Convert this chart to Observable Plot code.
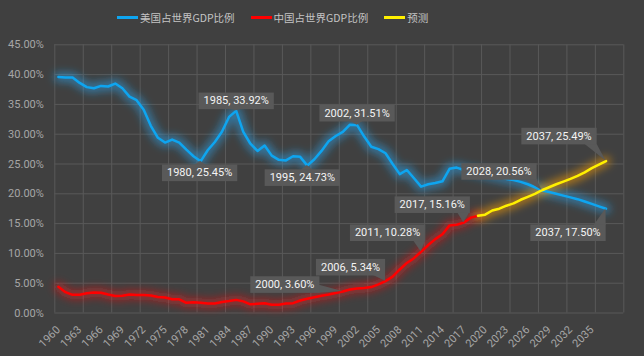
<!DOCTYPE html>
<html>
<head>
<meta charset="utf-8">
<script src="https://cdn.jsdelivr.net/npm/d3@7"></script>
<script src="https://cdn.jsdelivr.net/npm/@observablehq/plot@0.6"></script>
<style>
  html, body { margin: 0; padding: 0; background: #404040; }
  #legend { height: 35px; display: flex; align-items: center; padding-left: 117px;
    font-family: "Noto Sans CJK SC", sans-serif; font-size: 10.5px; color: #c4c4c4; box-sizing: border-box; }
  #legend .item { display: flex; align-items: center; margin-right: 16px; }
  #legend .sw { width: 21px; height: 3px; margin-right: 2px; }
  #chart svg { display: block; }
</style>
</head>
<body>
<div id="legend"></div>
<div id="chart"></div>
<script>
// ---- data ----
const seriesNames = ["美国占世界GDP比例", "中国占世界GDP比例", "预测"];
const seriesColors = ["#0ea5f0", "#ff0000", "#fff000"];

const usYears = d3.range(1960, 2038);
const usShare = [
  39.6, 39.5, 39.5, 38.6, 37.9, 37.7, 38.1, 38.0, 38.5, 37.7,
  36.3, 35.7, 34.1, 31.4, 29.4, 28.6, 29.1, 28.6, 27.4, 26.3,
  25.45, 27.3, 28.7, 30.4, 32.9, 33.92, 30.4, 28.4, 27.2, 28.1,
  26.4, 25.7, 25.6, 26.3, 26.2, 24.73, 25.8, 27.2, 28.8, 29.7,
  30.4, 31.6, 31.51, 29.6, 27.9, 27.5, 26.8, 25.0, 23.3, 24.0,
  22.6, 21.2, 21.6, 21.8, 22.1, 24.2, 24.4, 24.0, 23.8, 23.6,
  23.3, 23.0, 22.8, 22.5, 22.3, 22.0, 21.6, 21.1, 20.56, 20.3,
  20.0, 19.7, 19.4, 19.1, 18.7, 18.3, 17.9, 17.50
];

const cnYears = d3.range(1960, 2020);
const cnShare = [
  4.4, 3.5, 3.05, 3.05, 3.3, 3.45, 3.4, 3.1, 2.85, 2.9,
  3.1, 3.0, 3.0, 2.95, 2.7, 2.6, 2.3, 2.3, 1.7, 1.8,
  1.7, 1.6, 1.6, 1.85, 2.0, 2.2, 1.95, 1.45, 1.55, 1.65,
  1.4, 1.4, 1.6, 1.65, 2.1, 2.4, 2.65, 2.9, 3.1, 3.35,
  3.60, 3.95, 4.1, 4.2, 4.35, 4.8, 5.34, 6.1, 7.3, 8.4,
  9.2, 10.28, 11.4, 12.4, 13.2, 14.7, 14.8, 15.16, 16.0, 16.3
];

const forecastYears = d3.range(2019, 2038);
const cnForecast = [
  16.3, 16.5, 17.2, 17.5, 18.0, 18.4, 19.0, 19.5, 20.0, 20.6,
  21.1, 21.6, 22.05, 22.5, 23.0, 23.6, 24.3, 24.9, 25.49
];

const yTicks = [0, 5, 10, 15, 20, 25, 30, 35, 40, 45];
const xLabelYears = d3.range(1960, 2036, 3);
const xGridBounds = d3.range(1959.5, 2040, 4); // category boundaries, every 4 categories

const calloutYears  = [1980, 1985, 1995, 2002, 2028, 2037, 2000, 2006, 2011, 2017, 2037];
const calloutValues = [25.45, 33.92, 24.73, 31.51, 20.56, 17.50, 3.60, 5.34, 10.28, 15.16, 25.49];

// ---- layout (pixel offsets of callout boxes from their points) ----
const calloutOffsets = [
  [-1, 11.5], [0, -10], [-5, 12], [0, -12], [-43, -19], [-38, 24],
  [-58, -7], [-35, -14], [-33.5, -19], [-31.5, -18], [-47, -25]
];

// ---- legend ----
const legend = document.getElementById("legend");
seriesNames.forEach((name, i) => {
  const item = document.createElement("div");
  item.className = "item";
  const sw = document.createElement("span");
  sw.className = "sw";
  sw.style.background = seriesColors[i];
  const label = document.createElement("span");
  label.textContent = name;
  item.append(sw, label);
  legend.append(item);
});

// ---- tables ----
const usData = usYears.map((year, i) => ({year, value: usShare[i]}));
const cnData = cnYears.map((year, i) => ({year, value: cnShare[i]}));
const fcData = forecastYears.map((year, i) => ({year, value: cnForecast[i]}));

const grid = "#595959";
const calloutMarks = calloutYears.map((year, i) =>
  Plot.text([{year, value: calloutValues[i]}], {
    x: "year", y: "value",
    text: d => `${d.year}, ${d.value.toFixed(2)}%`,
    dx: calloutOffsets[i][0], dy: calloutOffsets[i][1],
    fill: "#f4f4f4", fontSize: 11, ariaDescription: "callout"
  })
);

const plot = Plot.plot({
  width: 644, height: 321,
  marginTop: 9.3, marginBottom: 43.5, marginLeft: 54.3, marginRight: 20.7,
  style: {background: "transparent", color: "#a6a6a6", fontFamily: "Roboto, sans-serif", fontSize: "11px"},
  x: {domain: [1959.5, 2039.5], axis: null},
  y: {domain: [0, 45], axis: null},
  marks: [
    Plot.ruleY(yTicks, {y: d => d, stroke: grid}),
    Plot.ruleX(xGridBounds, {x: d => d, stroke: grid}),
    Plot.axisY(yTicks, {tickSize: 0, tickPadding: 11, label: null, tickFormat: d => d.toFixed(2) + "%", fill: "#a6a6a6", fontSize: 11}),
    Plot.axisX(xLabelYears, {tickSize: 0, tickPadding: 15, label: null, tickRotate: -45, tickFormat: d => String(d), fill: "#a6a6a6", fontSize: 11}),
    Plot.line(usData, {x: "year", y: "value", stroke: "#2aaaf5", strokeWidth: 9, strokeOpacity: 0.55, ariaDescription: "glow"}),
    Plot.line(cnData, {x: "year", y: "value", stroke: "#ff1a1a", strokeWidth: 9, strokeOpacity: 0.5, ariaDescription: "glow"}),
    Plot.line(fcData, {x: "year", y: "value", stroke: "#ffa000", strokeWidth: 9, strokeOpacity: 0.6, ariaDescription: "glow"}),
    Plot.line(usData, {x: "year", y: "value", stroke: seriesColors[0], strokeWidth: 2.5}),
    Plot.line(cnData, {x: "year", y: "value", stroke: seriesColors[1], strokeWidth: 2.5}),
    Plot.line(fcData, {x: "year", y: "value", stroke: seriesColors[2], strokeWidth: 2.5}),
    ...calloutMarks
  ]
});
document.getElementById("chart").append(plot);

// ---- post-processing: glow filter & callout boxes ----
const svgNode = plot.tagName.toLowerCase() === "svg" ? plot : plot.querySelector("svg");
const svg = d3.select(svgNode);
const defs = svg.insert("defs", ":first-child");
const filter = defs.append("filter").attr("id", "glow")
  .attr("filterUnits", "userSpaceOnUse").attr("x", 0).attr("y", 0).attr("width", 644).attr("height", 321);
filter.append("feGaussianBlur").attr("stdDeviation", 4);
svg.selectAll('g[aria-description="glow"]').attr("filter", "url(#glow)");

const xs = plot.scale("x"), ys = plot.scale("y");
const boxFill = "#595959";
svg.selectAll('g[aria-description="callout"]').each(function(_, i) {
  const t = this.querySelector("text");
  const b = t.getBBox();
  const m = t.getCTM();
  const x1 = b.x + m.e - 5, x2 = b.x + b.width + m.e + 5;
  const cy = b.y + b.height / 2 + m.f;
  const y1 = cy - 8.3, y2 = cy + 8.3;
  const px = xs.apply(calloutYears[i]), py = ys.apply(calloutValues[i]);
  let poly;
  const w = 6;
  if (py > y2 || py < y1) {
    const ey = py > y2 ? y2 - 0.5 : y1 + 0.5;
    const c = Math.max(x1 + w, Math.min(x2 - w, px));
    poly = [[c - w, ey], [c + w, ey], [px, py]];
  } else {
    const ex = px > x2 ? x2 - 0.5 : x1 + 0.5;
    const c = Math.max(y1 + 4, Math.min(y2 - 4, py));
    poly = [[ex, c - 4], [ex, c + 4], [px, py]];
  }
  const node = this;
  const layer = svg.insert("g", () => node);
  layer.append("polygon").attr("points", poly.map(p => p.join(",")).join(" ")).attr("fill", boxFill);
  layer.append("rect").attr("x", x1).attr("y", y1).attr("width", x2 - x1).attr("height", y2 - y1).attr("fill", boxFill);
});
</script>
</body>
</html>
